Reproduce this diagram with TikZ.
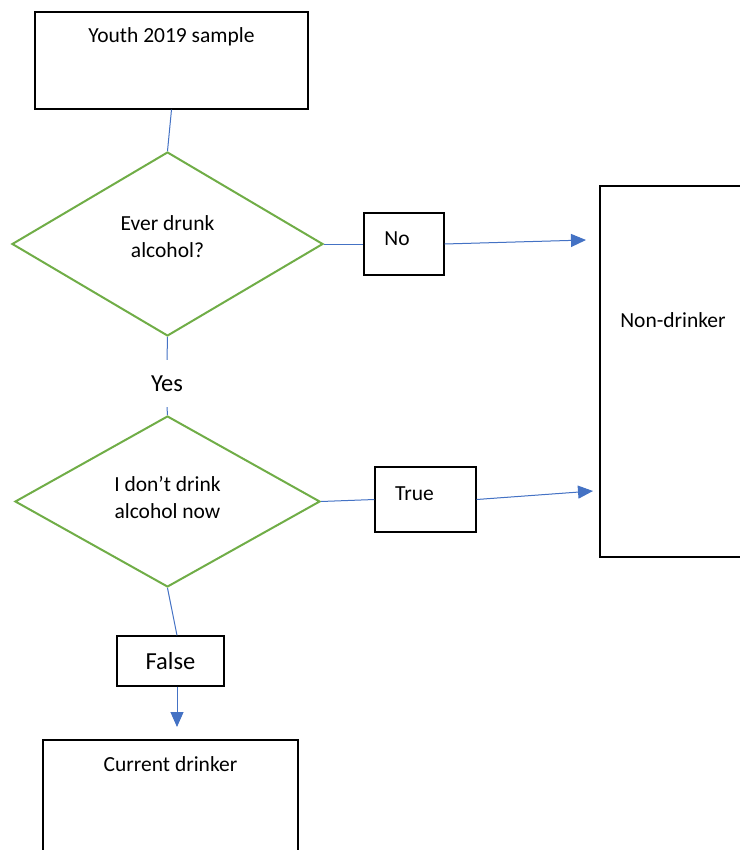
\documentclass[tikz,border=0pt]{standalone}
\usepackage{fontspec}
\setmainfont{Carlito}
\usepackage{tikz}
\usetikzlibrary{arrows.meta,positioning,shapes.geometric}
\usepackage{xcolor}
\definecolor{flowgreen}{RGB}{112,173,71}
\definecolor{flowblue}{RGB}{68,114,196}
\tikzset{
  stagebox/.style={rectangle,draw=black,line width=1.2pt,fill=white,inner sep=0pt},
  tagbox/.style={stagebox},
  question/.style={diamond,draw=flowgreen,line width=2pt,inner sep=0pt},
  answer/.style={inner sep=0pt,font=\fontsize{24.5}{29}\selectfont},
  link/.style={draw=flowblue,line width=1pt},
  flow/.style={link,-{Triangle[length=15pt,width=13pt]},fill=flowblue},
  boxtext/.style={font=\fontsize{21.5}{27}\selectfont,anchor=center,align=center},
}

\begin{document}
\begin{tikzpicture}[x=1pt,y=-1pt]
  \useasboundingbox (0,0) rectangle (739,850);
  % boxes
  \node[stagebox,minimum width=273pt,minimum height=97pt,
        label={[boxtext,yshift=-25pt]north:Youth 2019 sample}] (sample) at (171.5,60.5) {};
  \node[stagebox,minimum width=160pt,minimum height=371pt,
        label={[boxtext,xshift=-7pt,yshift=-135pt]north:Non-drinker}] (nondrinker) at (680,371.5) {};
  \node[stagebox,minimum width=255pt,minimum height=130pt,
        label={[boxtext,yshift=-25pt]north:Current drinker}] (current) at (170.5,805) {};
  % questions
  \node[question,minimum width=311pt,minimum height=184pt,
        label={[boxtext,yshift=7pt]center:Ever drunk\\alcohol?}] (ever) at (167.5,244) {};
  \node[question,minimum width=305pt,minimum height=171pt,
        label={[boxtext,yshift=4pt]center:I don’t drink\\alcohol now}] (notnow) at (167.5,501.5) {};
  % answers
  \node[tagbox,minimum width=80pt,minimum height=62pt,
        label={[boxtext,xshift=-7pt,yshift=5pt]center:No}] (no) at (404,244) {};
  \node[tagbox,minimum width=101pt,minimum height=65pt,
        label={[boxtext,xshift=-11pt,yshift=6pt]center:True}] (true) at (425.5,499.5) {};
  \node[tagbox,minimum width=107pt,minimum height=50pt,
        font=\fontsize{24.5}{29}\selectfont] (false) at (170.5,661) {False};
  \node[answer,minimum height=47pt] (yes) at (167,383.5) {Yes};
  \coordinate (in1) at (586,240);
  \coordinate (in2) at (593,491);
  \coordinate (in3) at (177,727);
  % connectors
  \draw[link] (sample.south) -- (ever.north);
  \draw[link] (ever.east) -- (no.west);
  \draw[flow] (no.east) -- (in1);
  \draw[link] (ever.south) -- (yes.north);
  \draw[link] (yes.south) -- (notnow.north);
  \draw[link] (notnow.east) -- (true.west);
  \draw[flow] (true.east) -- (in2);
  \draw[link] (notnow.south) -- (false.north -| in3);
  \draw[flow] (false.south -| in3) -- (in3);
\end{tikzpicture}
\end{document}
